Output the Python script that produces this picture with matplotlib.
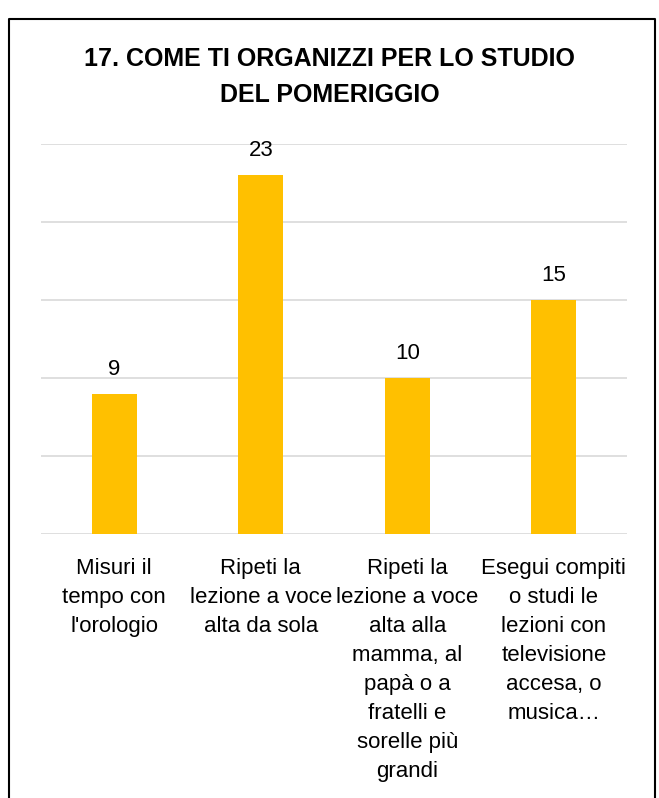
import numpy as np
import matplotlib.pyplot as plt
from matplotlib.lines import Line2D

plt.rcParams['font.family'] = ['Liberation Sans Narrow', 'Liberation Sans', 'DejaVu Sans']

title = '17. COME TI ORGANIZZI PER LO STUDIO\nDEL POMERIGGIO'
categories = [
    "Misuri il\ntempo con\nl'orologio",
    "Ripeti la\nlezione a voce\nalta da sola",
    "Ripeti la\nlezione a voce\nalta alla\nmamma, al\npapà o a\nfratelli e\nsorelle più\ngrandi",
    "Esegui compiti\no studi le\nlezioni con\ntelevisione\naccesa, o\nmusica…",
]
values = [9, 23, 10, 15]

fig = plt.figure(figsize=(6.59, 7.98), dpi=100)
ax = fig.add_axes([41 / 659, 1 - 534 / 798, 586 / 659, 390 / 798])

x = np.arange(len(values))
ax.bar(x, values, width=0.31, color='#FFC000', zorder=3)
for xi, v in zip(x, values):
    ax.text(xi, v + 0.9, str(v), ha='center', va='bottom', fontsize=16, color='#000000')

ax.set_xlim(-0.5, 3.5)
ax.set_ylim(0, 25)
ax.set_yticks(np.arange(0, 26, 5))
ax.yaxis.grid(True, color='#D9D9D9', linewidth=1.2, zorder=0)
ax.set_yticklabels([])
ax.tick_params(axis='y', length=0)
ax.tick_params(axis='x', length=0, pad=17)
for s in ax.spines.values():
    s.set_visible(False)
ax.set_xticks(x)
ax.set_xticklabels(categories, fontsize=16, linespacing=1.5, va='top', ha='center')

fig.text(0.5, 1 - 77 / 798, title, ha='center', va='center', fontsize=18,
         fontweight='bold', linespacing=1.6)

# frame round the chart, cut at the bottom
xl, xr, yt = 9 / 659, 655 / 659, 1 - 19 / 798
fig.add_artist(Line2D([xl, xl, xr, xr], [-0.01, yt, yt, -0.01], color='black', linewidth=1.5))

plt.savefig('out.png', dpi=100)
